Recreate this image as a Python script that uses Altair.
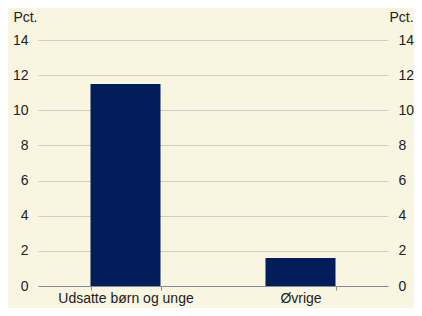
import altair as alt
import pandas as pd

categories = ["Udsatte børn og unge", "Øvrige"]
values = [11.5, 1.6]
y_ticks = [0, 2, 4, 6, 8, 10, 12, 14]

df = pd.DataFrame({"kategori": categories, "pct": values})

BG = "#F8F6E1"
BAR = "#031D5A"
TXT = "#222222"
FONT = "Liberation Sans"

x_enc = alt.X(
    "kategori:N",
    sort=categories,
    scale=alt.Scale(paddingInner=0.6, paddingOuter=0.3),
    axis=alt.Axis(
        title=None, labelAngle=0, tickBand="extent", tickSize=4,
        domainColor="#8a8a8a", tickColor="#8a8a8a", labelPadding=1,
        labelFont=FONT, labelFontSize=14, labelColor=TXT,
    ),
)

y_scale = alt.Scale(domain=[0, 14], nice=False)

left = alt.Chart(df).mark_bar(color=BAR).encode(
    x=x_enc,
    y=alt.Y(
        "pct:Q", scale=y_scale,
        axis=alt.Axis(
            orient="left", values=y_ticks, grid=True, gridColor="#cfcfc6",
            domain=False, ticks=False, labelPadding=10,
            labelFont=FONT, labelFontSize=14, labelColor=TXT,
            title="Pct.", titleAngle=0, titleAlign="right", titleBaseline="alphabetic",
            titleX=-1, titleY=-19, titleFont=FONT, titleFontSize=14,
            titleFontWeight="normal", titleColor=TXT,
        ),
    ),
)

right = alt.Chart(df).mark_bar(opacity=0).encode(
    x=x_enc,
    y=alt.Y(
        "pct:Q", scale=y_scale,
        axis=alt.Axis(
            orient="right", values=y_ticks, grid=False,
            domain=False, ticks=False, labelPadding=10,
            labelFont=FONT, labelFontSize=14, labelColor=TXT,
            title="Pct.", titleAngle=0, titleAlign="left", titleBaseline="alphabetic",
            titleX=1, titleY=-19, titleFont=FONT, titleFontSize=14,
            titleFontWeight="normal", titleColor=TXT,
        ),
    ),
)

chart = (
    alt.layer(left, right)
    .resolve_scale(y="independent")
    .properties(
        width=350, height=246,
        autosize=alt.AutoSizeParams(type="none"),
        padding={"left": 30, "top": 32, "right": 26, "bottom": 22},
        background=BG,
    )
    .configure_view(stroke=None)
)

chart.save("out.html", embed_options={"renderer": "svg", "actions": False})
